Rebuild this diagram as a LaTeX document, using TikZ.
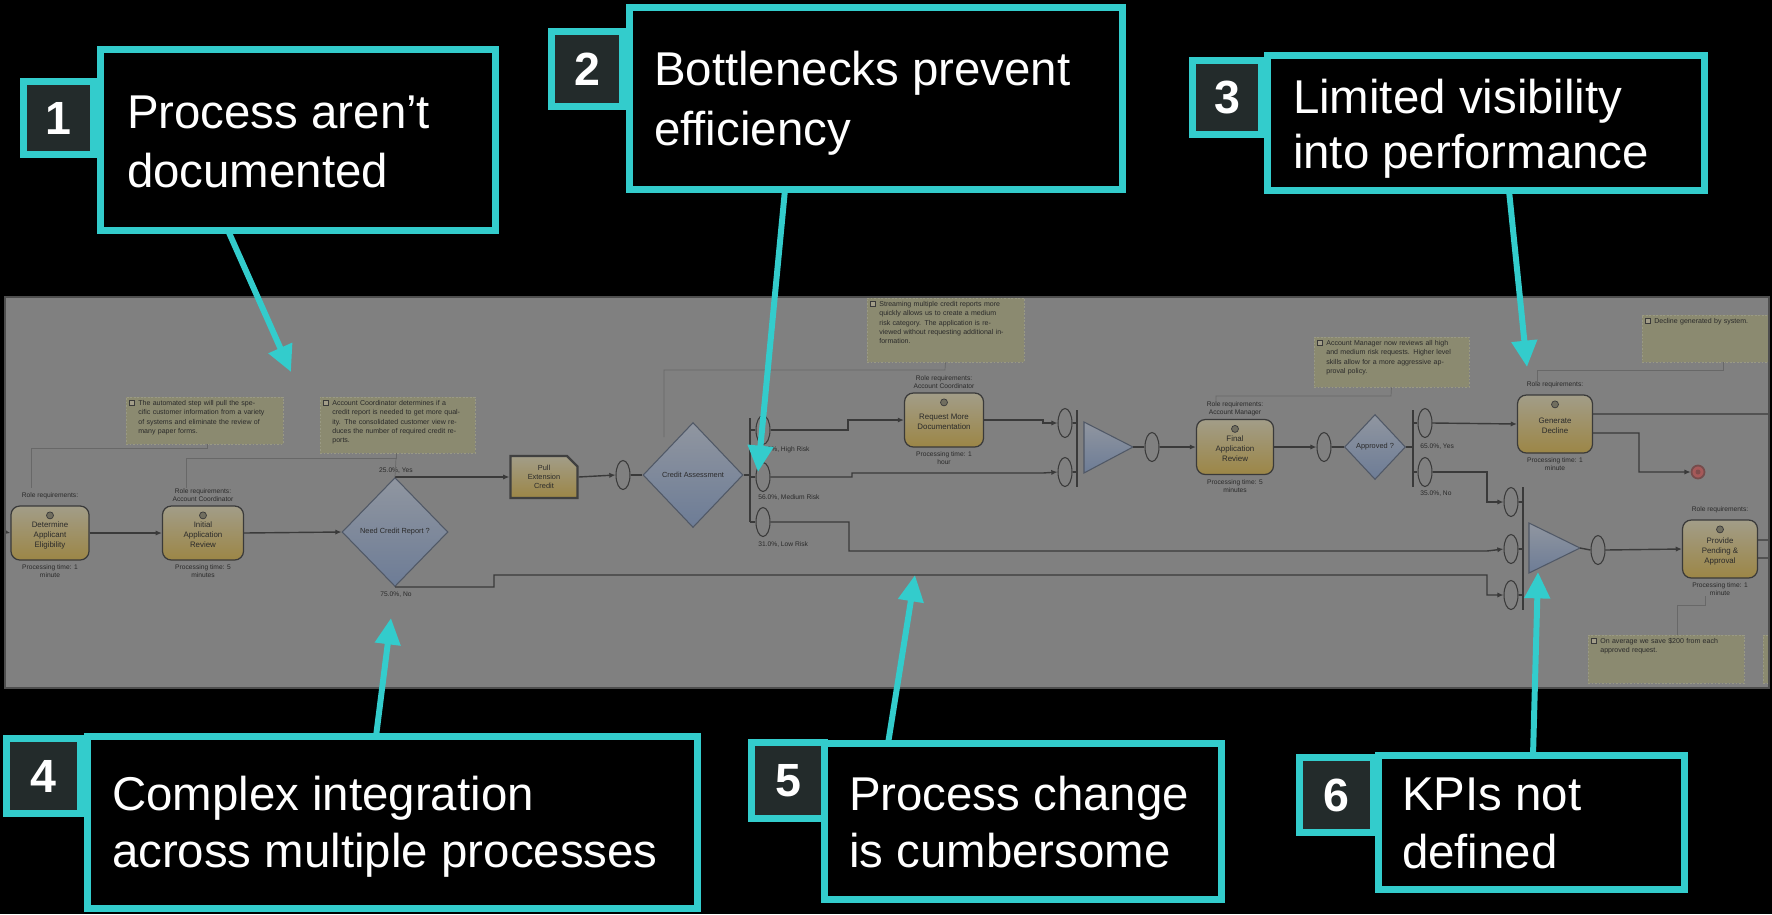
\documentclass[tikz,border=0pt]{standalone}
\usepackage{fontspec}
\setmainfont{Liberation Sans}
\usetikzlibrary{arrows.meta,shapes.geometric,shapes.misc,calc}
\definecolor{cy}{HTML}{33CCCC}
\definecolor{numbg}{HTML}{232B2B}
\definecolor{panelbg}{HTML}{808080}
\definecolor{panelLine}{HTML}{4E4E4E}
\definecolor{ln}{HTML}{3A3A3A}
\definecolor{assocc}{HTML}{686868}
\definecolor{notebg}{HTML}{8B8A70}
\definecolor{noteLine}{HTML}{9A9A84}
\definecolor{taskTop}{HTML}{A29D88}
\definecolor{taskBot}{HTML}{9C8646}
\definecolor{gwTop}{HTML}{9096A0}
\definecolor{gwBot}{HTML}{6D7C96}
\definecolor{gwLine}{HTML}{505866}
\definecolor{tinytxt}{HTML}{2A2A2A}
\tikzset{
 numbox/.style={draw=cy, line width=3.97pt, fill=numbg, inner sep=0pt, outer sep=0pt, text=white, font=\fontsize{26.5}{30}\selectfont\bfseries},
 callbox/.style={draw=cy, line width=3.97pt, fill=black, inner sep=0pt, outer sep=0pt},
 calltxt/.style={anchor=base west, inner sep=0pt, outer sep=0pt, text=white, font=\fontsize{27}{30}\selectfont},
 pointer/.style={draw=cy, line width=3.4pt, -{Triangle[length=15pt,width=14pt]}},
 taskbox/.style={draw=ln, line width=0.7pt, rounded corners=5pt, top color=taskTop, bottom color=taskBot, inner sep=0pt, align=center, text=tinytxt, font=\fontsize{4.5}{5.7}\selectfont},
 gwd/.style={diamond, draw=gwLine, line width=0.6pt, top color=gwTop, bottom color=gwBot, inner sep=0pt, text=tinytxt, font=\fontsize{4.2}{5}\selectfont},
 gwoval/.style={ellipse, draw=ln, line width=0.6pt, fill=panelbg, inner sep=0pt, minimum width=0.28cm, minimum height=0.58cm},
 notebox/.style={draw=noteLine, line width=0.5pt, dash pattern=on 1pt off 1pt, fill=notebg, inner sep=0pt},
 notetxt/.style={anchor=north west, inner sep=0pt, align=left, text=tinytxt, font=\fontsize{4}{5.3}\selectfont},
 noteicon/.style={draw=ln, line width=0.3pt, fill=taskTop, inner sep=0pt, minimum size=0.1cm},
 taskicon/.style={circle, draw=ln, line width=0.4pt, fill=taskTop!70!black, inner sep=0pt, minimum size=0.14cm},
 lbl/.style={inner sep=0pt, text=tinytxt, font=\fontsize{3.8}{4.6}\selectfont, align=center},
 seqflow/.style={draw=ln, line width=0.8pt},
 seqflowa/.style={seqflow, -{Latex[length=3.5pt,width=3pt]}},
 assocline/.style={draw=assocc, line width=0.4pt},
 gwbar/.style={draw=ln, line width=0.8pt},
}
\begin{document}
\begin{tikzpicture}[x=0.02cm,y=-0.02cm]
\useasboundingbox (0,0) rectangle (1772,914);
\fill[black] (0,0) rectangle (1772,914);
% ---------------- process panel ----------------
\fill[panelbg] (5,297) rectangle (1769,688);
\begin{scope}
\clip (5,297) rectangle (1769,688);
% notes
\node[notebox, minimum width=3.14cm, minimum height=0.94cm] (N1) at (204.5,420.5) {};
\node[noteicon] (N1i) at (132,403) {};
\node[notetxt, text width=2.6cm] (N1t) at (138,400) {The automated step will pull the specific customer information from a variety of systems and eliminate the review of many paper forms.};
\node[notebox, minimum width=3.10cm, minimum height=1.12cm] (N2) at (397.5,425) {};
\node[noteicon] (N2i) at (326,403) {};
\node[notetxt, text width=2.6cm] (N2t) at (332,400) {Account Coordinator determines if a credit report is needed to get more quality. The consolidated customer view reduces the number of required credit reports.};
\node[notebox, minimum width=3.14cm, minimum height=1.28cm] (N3) at (945.5,330) {};
\node[noteicon] (N3i) at (873,304) {};
\node[notetxt, text width=2.6cm] (N3t) at (879,301) {Streaming multiple credit reports more quickly allows us to create a medium risk category. The application is reviewed without requesting additional information.};
\node[notebox, minimum width=2.96cm, minimum height=0.94cm] (N4) at (1716,338.5) {};
\node[noteicon] (N4i) at (1648,321) {};
\node[notetxt, text width=2.4cm] (N4t) at (1654,318) {Decline generated by system.};
\node[notebox, minimum width=3.10cm, minimum height=1.00cm] (N5) at (1391.5,362) {};
\node[noteicon] (N5i) at (1320,343) {};
\node[notetxt, text width=2.6cm] (N5t) at (1326,340) {Account Manager now reviews all high and medium risk requests. Higher level skills allow for a more aggressive approval policy.};
\node[notebox, minimum width=3.12cm, minimum height=0.96cm] (N6) at (1666,659) {};
\node[noteicon] (N6i) at (1594,641) {};
\node[notetxt, text width=2.6cm] (N6t) at (1600,638) {On average we save \$200 from each approved request.};
\node[notebox, minimum width=3.12cm, minimum height=0.96cm] (N7) at (1841,659) {};
% tasks
\node[taskbox, minimum width=1.56cm, minimum height=1.08cm] (T1) at (50,533) {\\Determine\\Applicant\\Eligibility};
\node[taskbox, minimum width=1.62cm, minimum height=1.08cm] (T2) at (203,533) {\\Initial\\Application\\Review};
\node[taskbox, minimum width=1.58cm, minimum height=1.08cm] (T3) at (944,420) {\\Request More\\Documentation};
\node[taskbox, minimum width=1.54cm, minimum height=1.10cm] (T4) at (1235,447) {\\Final\\Application\\Review};
\node[taskbox, minimum width=1.50cm, minimum height=1.16cm] (T5) at (1555,424) {\\Generate\\Decline};
\node[taskbox, minimum width=1.50cm, minimum height=1.16cm] (T6) at (1720,549) {\\Provide\\Pending \&\\Approval};
\foreach \t in {T1,T2,T3,T4,T5,T6} {\node[taskicon] (\t i) at ([yshift=-0.2cm]\t.north) {};}
\node[chamfered rectangle, chamfered rectangle corners=north east, chamfered rectangle xsep=3pt, chamfered rectangle ysep=3pt, draw=black!75, line width=1.3pt, top color=taskTop, bottom color=taskBot, inner sep=0pt, minimum width=1.34cm, minimum height=0.84cm, align=center, text=tinytxt, font=\fontsize{4.2}{5.2}\selectfont] (P) at (544,477) {Pull\\Extension\\Credit};
% task labels
\node[lbl, anchor=south] (T1r) at ([yshift=0.12cm]T1.north) {Role requirements:};
\node[lbl, anchor=north] (T1p) at ([yshift=-0.08cm]T1.south) {Processing time: 1\\minute};
\node[lbl, anchor=south] (T2r) at ([yshift=0.06cm]T2.north) {Role requirements:\\Account Coordinator};
\node[lbl, anchor=north] (T2p) at ([yshift=-0.08cm]T2.south) {Processing time: 5\\minutes};
\node[lbl, anchor=south] (T3r) at ([yshift=0.06cm]T3.north) {Role requirements:\\Account Coordinator};
\node[lbl, anchor=north] (T3p) at ([yshift=-0.08cm]T3.south) {Processing time: 1\\hour};
\node[lbl, anchor=south] (T4r) at ([yshift=0.06cm]T4.north) {Role requirements:\\Account Manager};
\node[lbl, anchor=north] (T4p) at ([yshift=-0.08cm]T4.south) {Processing time: 5\\minutes};
\node[lbl, anchor=south] (T5r) at ([yshift=0.12cm]T5.north) {Role requirements:};
\node[lbl, anchor=north] (T5p) at ([yshift=-0.08cm]T5.south) {Processing time: 1\\minute};
\node[lbl, anchor=south] (T6r) at ([yshift=0.12cm]T6.north) {Role requirements:};
\node[lbl, anchor=north] (T6p) at ([yshift=-0.08cm]T6.south) {Processing time: 1\\minute};
% gateways
\node[gwd, minimum width=2.12cm, minimum height=2.18cm] (D1) at (395,532) {Need Credit Report ?};
\node[gwd, minimum width=2.00cm, minimum height=2.10cm] (D2) at (693,475) {Credit Assessment};
\node[gwd, minimum width=1.22cm, minimum height=1.30cm] (D3) at (1375,447) {Approved ?};
% ovals
\node[gwoval] (E0) at (623,475) {};
\node[gwoval] (EH) at (763,430) {};
\node[gwoval] (EM) at (763,477) {};
\node[gwoval] (EL) at (763,522) {};
\node[gwoval] (EA) at (1065,423) {};
\node[gwoval] (EB) at (1065,472) {};
\node[gwoval] (EC) at (1152,447) {};
\node[gwoval] (ED) at (1324,447) {};
\node[gwoval] (EY) at (1425,423) {};
\node[gwoval] (EN) at (1425,472) {};
\node[gwoval] (F1) at (1511,502) {};
\node[gwoval] (F2) at (1511,549) {};
\node[gwoval] (F3) at (1511,595) {};
\node[gwoval] (G1) at (1598,550) {};
% merges
\draw[draw=gwLine, line width=0.6pt, top color=gwTop, bottom color=gwBot] (1084,422) -- (1084,473) -- (1133,447) -- cycle;
\coordinate (M1in) at (1084,447);
\coordinate (M1a) at (1133,447);
\draw[draw=gwLine, line width=0.6pt, top color=gwTop, bottom color=gwBot] (1529,523) -- (1529,573) -- (1580,548) -- cycle;
\coordinate (M2a) at (1580,548);
\node[circle, draw=black!60!red!40!gray, line width=1pt, fill=red!30!gray, minimum size=0.26cm, inner sep=0pt] (End) at (1698,472) {};
\node[circle, fill=black!50!red!40!gray, minimum size=0.1cm, inner sep=0pt] (Endc) at (End) {};
% bars
\coordinate (B1) at (750,475);
\draw[gwbar] (750,418) -- (750,522);
\draw[gwbar] (1077,410) -- (1077,487);
\draw[gwbar] (1413,410) -- (1413,487);
\draw[gwbar] (1523,487) -- (1523,610);
% sequence flows
\coordinate (In) at (5,532);
\draw[seqflowa] (In) -- (T1.west);
\draw[seqflowa] (T1.east) -- (T2.west);
\draw[seqflowa] (T2.east) -- (D1.west);
\draw[seqflowa] (D1.north) -- (D1.north -| P.west);
\draw[seqflowa] (D1.south) -- (494,587) -- (494,575) -- (1487,575) -- (1487,595) -- (F3.west);
\draw[seqflowa] (P.east) -- (E0.west);
\draw[seqflow] (E0.east) -- (D2.west);
\draw[seqflow] (D2.east) -- (B1);
\draw[seqflow] (750,430) -- (EH.west);
\draw[seqflow] (750,477) -- (EM.west);
\draw[seqflow] (750,522) -- (EL.west);
\draw[seqflowa] (EH.east) -- (848,430) -- (848,420) -- (T3.west);
\draw[seqflowa] (T3.east) -- (1043,420) -- (1043,423) -- (EA.west);
\draw[seqflowa] (EM.east) -- (852,477) -- (852,473) -- (1043,473) -- (EB.west);
\draw[seqflowa] (EL.east) -- (849,522) -- (849,551) -- (1487,551) -- (F2.west);
\draw[seqflow] (EA.east) -- (1077,423);
\draw[seqflow] (EB.east) -- (1077,472);
\draw[seqflow] (M1a) -- (EC.west);
\draw[seqflowa] (EC.east) -- (T4.west);
\draw[seqflowa] (T4.east) -- (ED.west);
\draw[seqflow] (ED.east) -- (D3.west);
\draw[seqflow] (D3.east) -- (1413,447);
\draw[seqflow] (1413,423) -- (EY.west);
\draw[seqflow] (1413,472) -- (EN.west);
\draw[seqflowa] (EY.east) -- (T5.west);
\draw[seqflow] ([yshift=0.2cm]T5.east) -- (1769,414);
\draw[seqflowa] ([yshift=-0.18cm]T5.east) -- (1639,433) -- (1639,472) -- (End.west);
\draw[seqflowa] (EN.east) -- (1487,472) -- (1487,502) -- (F1.west);
\draw[seqflow] (F1.east) -- (1523,502);
\draw[seqflow] (F2.east) -- (1523,549);
\draw[seqflow] (F3.east) -- (1523,595);
\draw[seqflow] (M2a) -- (G1.west);
\draw[seqflowa] (G1.east) -- (T6.west);
\draw[seqflow] ([yshift=0.18cm]T6.east) -- (1769,540);
\draw[seqflow] ([yshift=-0.18cm]T6.east) -- (1769,558);
% gateway labels
\node[lbl, anchor=south] (L1) at (396,474) {25.0\%, Yes};
\node[lbl, anchor=north] (L2) at (396,591) {75.0\%, No};
\node[lbl, anchor=west] (L3) at (758,450) {13.0\%, High Risk};
\node[lbl, anchor=west] (L4) at (758,497) {56.0\%, Medium Risk};
\node[lbl, anchor=west] (L5) at (758,544) {31.0\%, Low Risk};
\node[lbl, anchor=west] (L6) at (1420,447) {65.0\%, Yes};
\node[lbl, anchor=west] (L7) at (1420,494) {35.0\%, No};
% associations
\draw[assocline] (N1.south -| 207,0) -- (207,448) -- (31,448) -- (31,488);
\draw[assocline] (186,488) -- (186,458) -- (396,458) -- (N2.south -| 396,0);
\draw[assocline] (396,458) -- (D1.north);
\draw[assocline] (N3.south) -- (945,370) -- (664,370) -- (664,437);
\draw[assocline] (1537,384) -- (1537,370) -- (1723,370) -- (N4.south -| 1723,0);
\draw[assocline] (N5.south) -- (1391,396) -- (1216,396) -- (1216,403);
\draw[assocline] (N6.north -| 1677,0) -- (1677,605) -- (1705,605) -- (1705,596);
\end{scope}
\draw[panelLine, line width=0.8pt] (5,297) rectangle (1769,688);
% ---------------- callouts ----------------
\node[numbox, minimum width=1.40cm, minimum height=1.46cm] (n1) at (58.5,118) {1};
\node[callbox, minimum width=7.90cm, minimum height=3.62cm] (b1) at (298,140) {};
\node[calltxt] (t1a) at (127,128) {Process aren’t};
\node[calltxt] (t1b) at (127,187) {documented};

\node[numbox, minimum width=1.42cm, minimum height=1.50cm] (n2) at (587,69) {2};
\node[callbox, minimum width=9.86cm, minimum height=3.64cm] (b2) at (876,98.5) {};
\node[calltxt] (t2a) at (654,85) {Bottlenecks prevent};
\node[calltxt] (t2b) at (654,145) {efficiency};

\node[numbox, minimum width=1.38cm, minimum height=1.48cm] (n3) at (1227,97.5) {3};
\node[callbox, minimum width=8.74cm, minimum height=2.70cm] (b3) at (1486,123) {};
\node[calltxt] (t3a) at (1293,113) {Limited visibility};
\node[calltxt] (t3b) at (1293,168) {into performance};

\node[numbox, minimum width=1.48cm, minimum height=1.50cm] (n4) at (43.5,776) {4};
\node[callbox, minimum width=12.20cm, minimum height=3.44cm] (b4) at (392.5,822.5) {};
\node[calltxt] (t4a) at (112,810) {Complex integration};
\node[calltxt] (t4b) at (112,867) {across multiple processes};

\node[numbox, minimum width=1.46cm, minimum height=1.52cm] (n5) at (788,780.5) {5};
\node[callbox, minimum width=7.94cm, minimum height=3.12cm] (b5) at (1023,821.5) {};
\node[calltxt] (t5a) at (849,810) {Process change};
\node[calltxt] (t5b) at (849,867) {is cumbersome};

\node[numbox, minimum width=1.48cm, minimum height=1.50cm] (n6) at (1336.5,795) {6};
\node[callbox, minimum width=6.12cm, minimum height=2.68cm] (b6) at (1531.5,822.5) {};
\node[calltxt] (t6a) at (1402,810) {KPIs not};
\node[calltxt] (t6b) at (1402,868) {defined};
% pointers
\coordinate (p1) at (291,372);
\coordinate (p2) at (758,472);
\coordinate (p3) at (1527,367);
\coordinate (p4) at (391,618);
\coordinate (p5) at (915,575);
\coordinate (p6) at (1538,572);
\draw[pointer] ([xshift=-1.40cm]b1.south) -- (p1);
\draw[pointer] ([xshift=-1.82cm]b2.south) -- (p2);
\draw[pointer] ([xshift=0.46cm]b3.south) -- (p3);
\draw[pointer] ([xshift=-0.33cm]b4.north) -- (p4);
\draw[pointer] ([xshift=-2.70cm]b5.north) -- (p5);
\draw[pointer] ([xshift=0.03cm]b6.north) -- (p6);
\end{tikzpicture}
\end{document}
